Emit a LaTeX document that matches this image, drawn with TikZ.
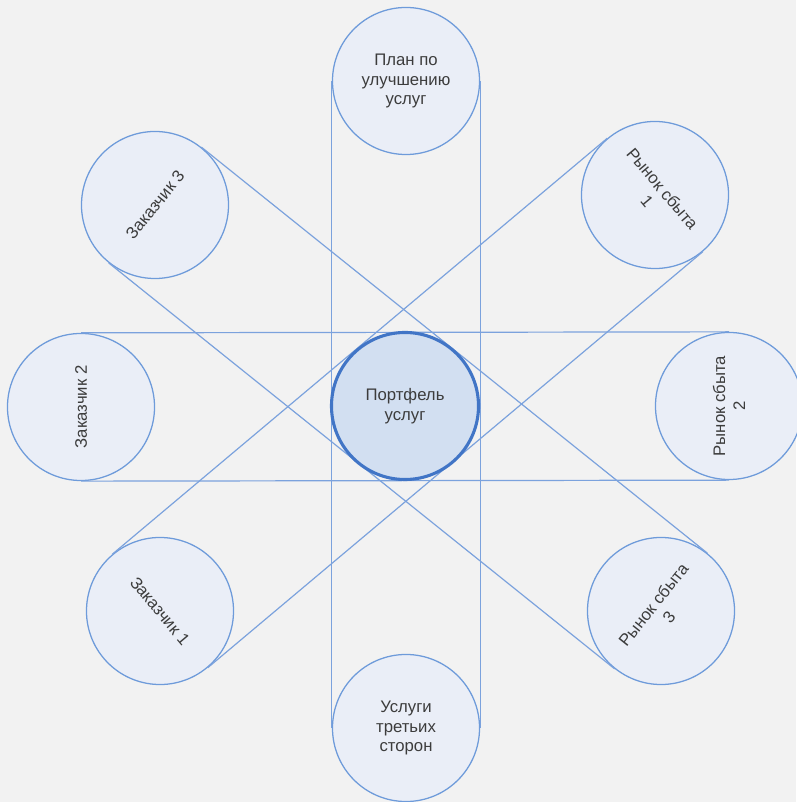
\documentclass[tikz,border=0pt]{standalone}
\usepackage{fontspec}
\setmainfont{Liberation Sans}
\usepackage{xcolor}
\usetikzlibrary{positioning,calc}

\definecolor{bgcol}{HTML}{F2F2F2}
\definecolor{ringblue}{HTML}{6E9BDA}
\definecolor{ringfill}{HTML}{EAEEF7}
\definecolor{coreblue}{HTML}{4175C6}
\definecolor{corefill}{HTML}{D2DFF1}
\definecolor{beltblue}{HTML}{7BA2DD}
\definecolor{txtgray}{HTML}{3C3C3C}

\begin{document}
\begin{tikzpicture}[
          x=0.025cm, y=0.025cm,
          unit/.style={circle, draw=ringblue, fill=ringfill, line width=0.9pt,
            minimum size=3.675cm, inner sep=0pt, align=center, text=txtgray,
            font=\fontsize{11.9}{14.2}\selectfont},
          core/.style={unit, draw=coreblue, fill=corefill, line width=2.2pt},
          belt/.style={draw=beltblue, line width=0.85pt}
      ]
        \fill[bgcol] (0,0) rectangle (796,802);
        \useasboundingbox (0,0) rectangle (796,802);
        % circles
        \node[unit] (plan) at (406,721) {План по\\улучшению\\услуг};
        \node[unit] (usl) at (406,74) {Услуги\\третьих\\сторон};
        \node[unit, rotate=90] (zak2) at (81,395) {Заказчик 2};
        \node[unit, rotate=90] (ryn2) at (729,396) {Рынок сбыта\\2};
        \node[unit, rotate=51.3] (zak3) at (155,597) {Заказчик 3};
        \node[unit, rotate=51.3] (ryn3) at (661,191) {Рынок сбыта\\3};
        \node[unit, rotate=-50] (ryn1) at (655,607) {Рынок сбыта\\1};
        \node[unit, rotate=-50] (zak1) at (160,191) {Заказчик 1};
        % belts
        \draw[belt] (plan.west) -- (usl.west);
        \draw[belt] (plan.east) -- (usl.east);
        \draw[belt] (zak2.east) -- (ryn2.east);
        \draw[belt] (zak2.west) -- (ryn2.west);
        \draw[belt] (zak3.east) -- (ryn3.east);
        \draw[belt] (zak3.west) -- (ryn3.west);
        \draw[belt] (zak1.east) -- (ryn1.east);
        \draw[belt] (zak1.west) -- (ryn1.west);
        \node[core] (port) at (405,396) {Портфель\\услуг};
      \end{tikzpicture}
\end{document}
